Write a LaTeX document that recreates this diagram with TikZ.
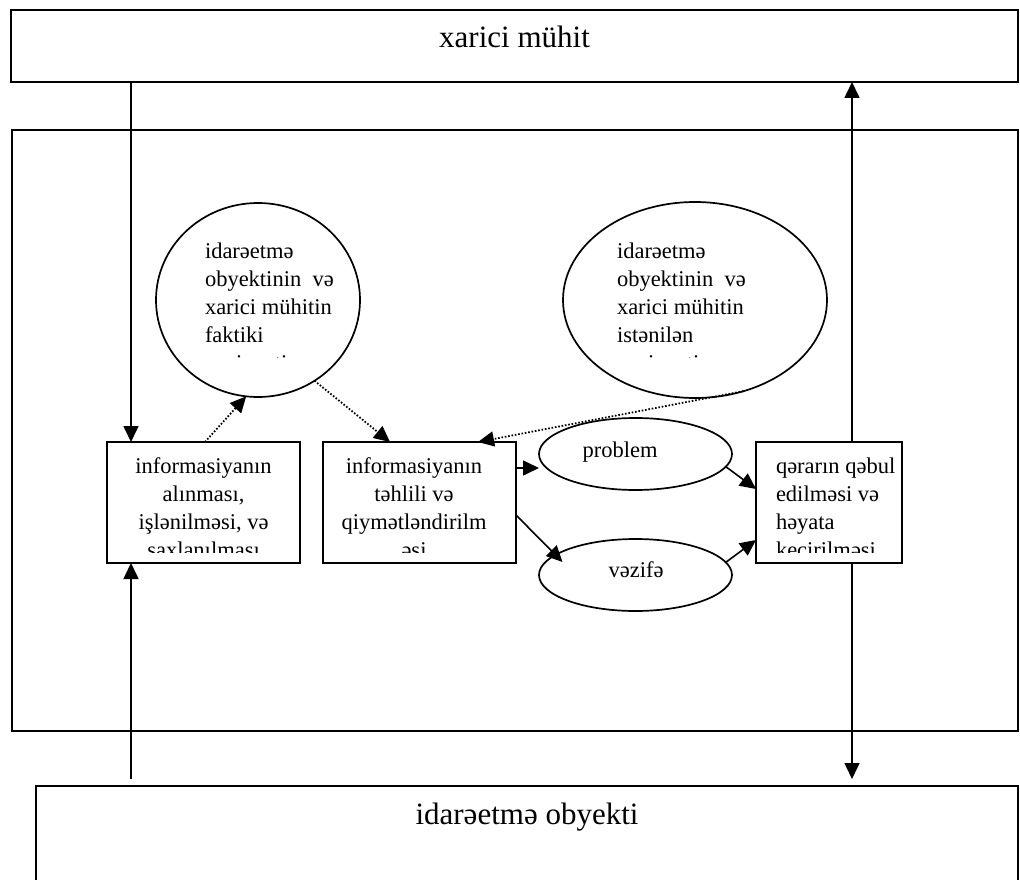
\documentclass[tikz,border=0pt]{standalone}
\usepackage{fontspec}
\setmainfont{Liberation Serif}
\usetikzlibrary{arrows.meta,shapes.geometric,calc}
\begin{document}
\begin{tikzpicture}[x=1pt,y=-1pt,
  frame/.style={draw, line width=1.7pt, fill=white, inner sep=0, outer sep=0},
  rbox/.style={frame, rectangle},
  ebox/.style={frame, ellipse},
  txt/.style={font=\fontsize{22.5}{28.2}\selectfont, inner sep=0, outer sep=0},
  title/.style={font=\fontsize{31}{36}\selectfont, inner sep=0, outer sep=0},
  arr/.style={line width=1.6pt, -{Triangle[length=16pt,width=15pt]}},
  dotarr/.style={line width=1.8pt, dash pattern=on 1.6pt off 1.8pt, -{Triangle[length=16pt,width=15pt]}}
]
\useasboundingbox (0,0) rectangle (1020,880);
\fill[white] (0,0) rectangle (1020,880);

% frames
\node[rbox, minimum width=1007pt, minimum height=72pt] (top) at (514.5,46) {};
\node[rbox, minimum width=1006pt, minimum height=601pt] (inner) at (515,430.5) {};
\node[rbox, minimum width=982pt, minimum height=114pt] (bot) at (527,843) {};

% inner shapes
\node[rbox, minimum width=193pt, minimum height=121pt] (b1) at (203.5,502.5) {};
\node[rbox, minimum width=193pt, minimum height=121pt] (b2) at (419.5,502.5) {};
\node[rbox, minimum width=146pt, minimum height=121pt] (b4) at (829,502.5) {};
\node[ebox, minimum width=204pt, minimum height=194pt] (e1) at (258,300) {};
\node[ebox, minimum width=264pt, minimum height=196pt] (e2) at (695,300) {};
\node[ebox, minimum width=193pt, minimum height=72pt] (ep) at (635.5,454) {};
\node[ebox, minimum width=193pt, minimum height=72pt] (ev) at (635.5,575) {};

% texts
\node[title, anchor=base] (ttop) at (514.5,48) {xarici mühit};
\node[title, anchor=base] (tbot) at (527,824) {idarəetmə obyekti};

\begin{scope}
\clip (107,442) rectangle (300,552);
\node[txt, anchor=north, align=center] (t1) at (203.5,457)
  {\rule{0pt}{16pt}informasiyanın\\alınması,\\işlənilməsi, və\\saxlanılması};
\end{scope}
\begin{scope}
\clip (323,442) rectangle (516,552);
\node[txt, anchor=north, align=center] (t2) at (414,457)
  {\rule{0pt}{16pt}informasiyanın\\təhlili və\\qiymətləndirilm\\əsi};
\end{scope}
\begin{scope}
\clip (756,442) rectangle (902,552);
\node[txt, anchor=north west, align=left] (t4) at (776,457)
  {\rule{0pt}{16pt}qərarın qəbul\\edilməsi və\\həyata\\keçirilməsi};
\end{scope}
\begin{scope}
\clip (150,200) rectangle (370,357);
\node[txt, anchor=north west, align=left] (te1) at (205,242)
  {\rule{0pt}{16pt}idarəetmə\\obyektinin~ və\\xarici mühitin\\faktiki\\vəziyyəti};
\end{scope}
\begin{scope}
\clip (560,200) rectangle (830,357);
\node[txt, anchor=north west, align=left] (te2) at (617,242)
  {\rule{0pt}{16pt}idarəetmə\\obyektinin~ və\\xarici mühitin\\istənilən\\vəziyyəti};
\end{scope}
\node[txt, anchor=base] (tp) at (620,457) {problem};
\node[txt, anchor=base] (tv) at (636,577) {vəzifə};

% vertical connectors
\coordinate (L) at (131,0);
\coordinate (R) at (852,0);
\coordinate (Lb) at (131,779);
\coordinate (Rb) at (852,779);
\draw[arr] (top.south -| L) -- (b1.north -| L);
\draw[arr] (Lb) -- (b1.south -| L);
\draw[arr] (b4.north -| R) -- (top.south -| R);
\draw[arr] (b4.south -| R) -- (Rb);

% dotted connectors
\draw[dotarr] (b1.north -| 205,0) -- (e1.263);
\draw[dotarr] (e1.305) -- (b2.north -| 390,0);
\draw[dotarr] (e2.298) -- (b2.north -| 478,0);

% solid connectors
\draw[arr] (b2.east |- 0,468) -- (ep.west |- 0,468);
\draw[arr] (b2.east |- 0,515) -- ($(ev.center)+(-73,-13)$);
\draw[arr] (ep.352) -- (b4.west |- 0,489);
\draw[arr] (ev.8) -- (b4.west |- 0,540);
\end{tikzpicture}
\end{document}
